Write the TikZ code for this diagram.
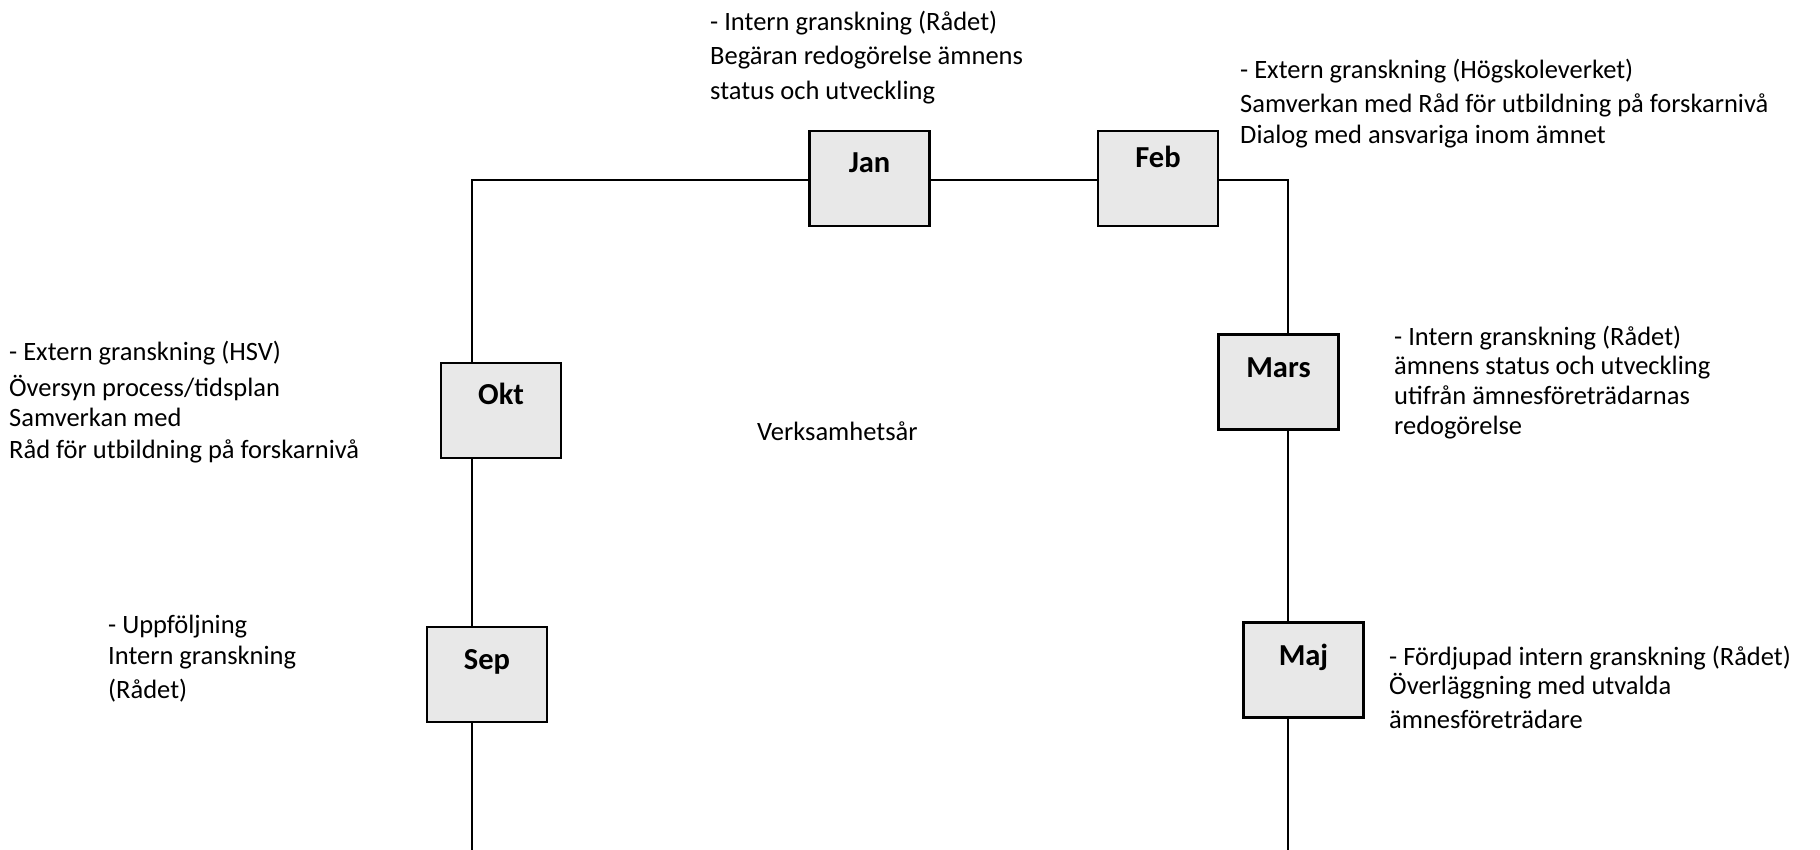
\documentclass[tikz,border=0pt]{standalone}
\usepackage{fontspec}
\setmainfont{Carlito}
\definecolor{boxgray}{HTML}{E8E8E8}
\begin{document}
\begin{tikzpicture}[x=1pt,y=-1pt,
  mbox/.style={draw, line width=2.3pt, fill=boxgray, minimum width=120pt, minimum height=95pt, inner sep=0pt},
  mlbl/.style={anchor=base, inner sep=0pt, font=\fontsize{30.5}{35}\selectfont\bfseries},
  note/.style={anchor=north west, align=left, inner sep=0pt, font=\fontsize{26.5}{31}\selectfont},
  conn/.style={line width=2pt, line join=miter}]
\useasboundingbox (0,0) rectangle (1820,850);

% month boxes
\node[mbox] (jan)  at (869.5,178.5) {};
\node[mbox] (feb)  at (1158,178.5) {};
\node[mbox] (okt)  at (501,410.5) {};
\node[mbox] (mars) at (1278.5,382) {};
\node[mbox] (sep)  at (487,674.5) {};
\node[mbox] (maj)  at (1303.5,670) {};

% month labels
\node[mlbl] (janl)  at (869.5,172.5) {Jan};
\node[mlbl] (febl)  at (1158,168) {Feb};
\node[mlbl] (oktl)  at (501,404) {Okt};
\node[mlbl] (marsl) at (1278.5,377) {Mars};
\node[mlbl] (sepl)  at (487,669) {Sep};
\node[mlbl] (majl)  at (1303.5,665) {Maj};

% frame coordinates
\coordinate (tl) at (472,180);
\coordinate (tr) at (1288,180);
\coordinate (bl) at (472,850);
\coordinate (br) at (1288,850);

% connectors
\draw[conn] (bl) -- (bl |- sep.south);
\draw[conn] (bl |- sep.north) -- (bl |- okt.south);
\draw[conn] (bl |- okt.north) -- (tl) -- (tl -| jan.west);
\draw[conn] (jan.east |- tl) -- (feb.west |- tl);
\draw[conn] (feb.east |- tl) -- (tr) -- (tr |- mars.north);
\draw[conn] (tr |- mars.south) -- (tr |- maj.north);
\draw[conn] (tr |- maj.south) -- (br);

% notes
\node[note] (njan) at (710,10) {\rule{0pt}{20pt}- Intern granskning (Rådet)\\[3pt]
  Begäran redogörelse ämnens\\[4pt]
  status och utveckling};
\node[note] (nfeb) at (1240,58) {\rule{0pt}{20pt}- Extern granskning (Högskoleverket)\\[3pt]
  Samverkan med Råd för utbildning på forskarnivå\\
  Dialog med ansvariga inom ämnet};
\node[note] (nmars) at (1394,325) {\rule{0pt}{20pt}- Intern granskning (Rådet)\\[-2pt]
  ämnens status och utveckling\\[-1pt]
  utifrån ämnesföreträdarnas\\[-1pt]
  redogörelse};
\node[note] (nokt) at (9,340) {\rule{0pt}{20pt}- Extern granskning (HSV)\\[5pt]
  Översyn process/tidsplan\\[-1pt]
  Samverkan med\\[1pt]
  Råd för utbildning på forskarnivå};
\node[note] (nsep) at (108,613) {\rule{0pt}{20pt}- Uppföljning\\
  Intern granskning\\[3pt]
  (Rådet)};
\node[note] (nmaj) at (1389,645) {\rule{0pt}{20pt}- Fördjupad intern granskning (Rådet)\\[-2pt]
  Överläggning med utvalda\\[3pt]
  ämnesföreträdare};
\node[anchor=base west, inner sep=0pt, font=\fontsize{26.5}{31}\selectfont] (verk) at (757,440) {Verksamhetsår};
\end{tikzpicture}
\end{document}
